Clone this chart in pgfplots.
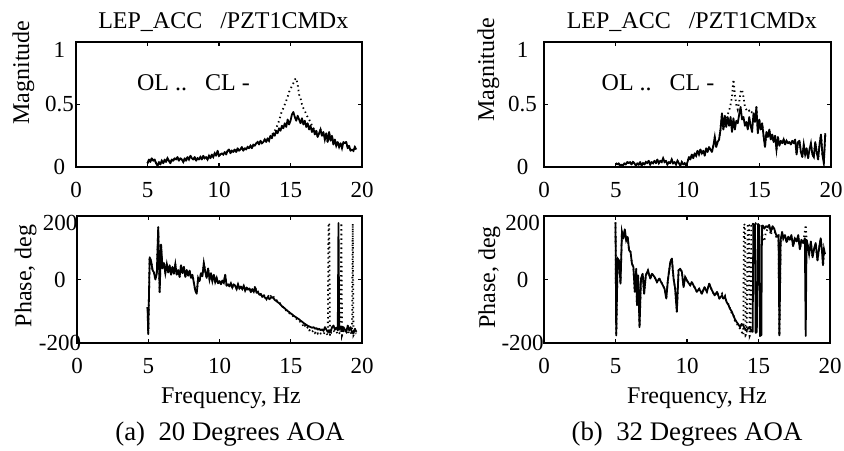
\documentclass[border=0pt]{standalone}
\usepackage{fontspec}
\setmainfont{Liberation Serif}
\usepackage{pgfplots}
\usepackage{pgfplotstable}
\pgfplotsset{compat=1.18}

% magnitude, 20 deg AOA: f, closed loop, open loop
\pgfplotstableread{
f cl ol
5.0 0.03 0.03
5.1 0.06 0.06
5.2 0.04 0.04
5.3 0.07 0.07
5.4 0.05 0.05
5.5 0.06 0.06
5.6 0.03 0.03
5.7 0.01 0.01
5.8 0.04 0.04
5.9 0.02 0.02
6.0 0.05 0.05
6.1 0.03 0.03
6.2 0.06 0.06
6.3 0.04 0.04
6.4 0.07 0.07
6.5 0.05 0.05
6.6 0.03 0.03
6.7 0.06 0.06
6.8 0.05 0.05
6.9 0.07 0.07
7.0 0.06 0.06
7.1 0.08 0.08
7.2 0.05 0.05
7.3 0.07 0.07
7.4 0.06 0.06
7.5 0.04 0.04
7.6 0.07 0.07
7.7 0.05 0.05
7.8 0.08 0.08
7.9 0.06 0.06
8.0 0.09 0.09
8.1 0.07 0.07
8.2 0.06 0.06
8.3 0.08 0.08
8.4 0.05 0.05
8.5 0.07 0.07
8.6 0.06 0.06
8.7 0.08 0.08
8.8 0.06 0.06
8.9 0.09 0.09
9.0 0.07 0.07
9.1 0.08 0.08
9.2 0.06 0.06
9.3 0.09 0.09
9.4 0.07 0.07
9.5 0.10 0.10
9.6 0.08 0.08
9.7 0.11 0.11
9.8 0.09 0.09
9.9 0.13 0.13
10.0 0.09 0.09
10.1 0.10 0.10
10.2 0.11 0.11
10.3 0.10 0.10
10.4 0.12 0.12
10.5 0.10 0.10
10.6 0.13 0.13
10.7 0.14 0.14
10.8 0.11 0.11
10.9 0.13 0.13
11.0 0.12 0.12
11.1 0.14 0.14
11.2 0.12 0.12
11.3 0.15 0.15
11.4 0.13 0.13
11.5 0.14 0.14
11.6 0.16 0.16
11.7 0.13 0.13
11.8 0.15 0.15
11.9 0.14 0.14
12.0 0.16 0.16
12.1 0.15 0.15
12.2 0.17 0.17
12.3 0.15 0.15
12.4 0.18 0.18
12.5 0.17 0.17
12.6 0.19 0.19
12.7 0.20 0.20
12.8 0.18 0.18
12.9 0.21 0.21
13.0 0.19 0.19
13.1 0.20 0.20
13.2 0.22 0.22
13.3 0.20 0.20
13.4 0.23 0.23
13.5 0.21 0.21
13.6 0.25 0.25
13.7 0.23 0.25
13.8 0.27 0.28
13.9 0.25 0.29
14.0 0.29 0.31
14.1 0.27 0.34
14.2 0.31 0.37
14.3 0.29 0.41
14.4 0.33 0.45
14.5 0.31 0.47
14.6 0.35 0.50
14.7 0.32 0.53
14.8 0.38 0.56
14.9 0.34 0.60
15.0 0.37 0.62
15.1 0.42 0.65
15.2 0.44 0.67
15.3 0.40 0.70
15.4 0.37 0.71
15.5 0.41 0.66
15.6 0.38 0.58
15.7 0.35 0.55
15.8 0.39 0.50
15.9 0.34 0.47
16.0 0.37 0.45
16.1 0.32 0.42
16.2 0.35 0.40
16.3 0.30 0.38
16.4 0.33 0.36
16.5 0.28 0.33
16.6 0.31 0.31
16.7 0.26 0.29
16.8 0.29 0.29
16.9 0.24 0.24
17.0 0.27 0.27
17.1 0.30 0.30
17.2 0.25 0.25
17.3 0.28 0.28
17.4 0.22 0.22
17.5 0.27 0.27
17.6 0.20 0.20
17.7 0.28 0.28
17.8 0.21 0.21
17.9 0.25 0.25
18.0 0.18 0.18
18.1 0.22 0.22
18.2 0.17 0.17
18.3 0.20 0.20
18.4 0.16 0.16
18.5 0.19 0.19
18.6 0.15 0.15
18.7 0.20 0.20
18.8 0.19 0.19
18.9 0.20 0.20
19.0 0.15 0.15
19.1 0.17 0.17
19.2 0.13 0.13
19.3 0.14 0.14
19.4 0.13 0.13
19.5 0.16 0.16
19.6 0.14 0.14
}\magA

% phase, 20 deg AOA
\pgfplotstableread{
f cl ol
4.95 -87 -87
5.00 -172 -172
5.10 70 70
5.20 58 58
5.30 30 30
5.40 22 22
5.50 0 0
5.60 18 18
5.70 165 165
5.80 -40 -40
5.90 110 110
6.00 35 35
6.10 52 52
6.20 20 20
6.30 48 48
6.40 22 22
6.50 45 45
6.60 15 15
6.70 40 40
6.80 18 18
6.90 48 48
7.00 15 15
7.10 30 30
7.20 8 8
7.30 45 45
7.40 20 20
7.50 40 40
7.60 8 8
7.70 30 30
7.80 12 12
7.90 28 28
8.00 5 5
8.10 15 15
8.20 -10 -10
8.30 -35 -35
8.40 -45 -45
8.50 5 5
8.60 -5 -5
8.70 20 20
8.80 10 10
8.90 52 52
9.00 25 25
9.10 5 5
9.20 35 35
9.30 0 0
9.40 20 20
9.50 -5 -5
9.60 15 15
9.70 -8 -8
9.80 5 5
9.90 -12 -12
10.00 -5 -5
10.10 -15 -15
10.20 -3 -3
10.30 -10 -10
10.40 15 15
10.50 -20 -20
10.60 -15 -15
10.70 -22 -22
10.80 -12 -12
10.90 -25 -25
11.00 -15 -15
11.10 -20 -20
11.20 -30 -30
11.30 -15 -15
11.40 -28 -28
11.50 -22 -22
11.60 -30 -30
11.70 -20 -20
11.80 -35 -35
11.90 -25 -25
12.00 -32 -32
12.10 -28 -28
12.20 -40 -40
12.30 -30 -30
12.40 -38 -38
12.50 -25 -20
12.60 -42 -40
12.70 -40 -38
12.80 -48 -45
12.90 -45 -48
13.00 -55 -52
13.10 -50 -48
13.20 -58 -55
13.30 -60 -62
13.40 -55 -50
13.50 -62 -58
13.60 -58 -52
13.70 -55 -48
13.80 -60 -55
13.90 -65 -62
14.00 -68 -65
14.10 -72 -70
14.20 -75 -72
14.30 -80 -78
14.40 -85 -82
14.50 -88 -90
14.60 -92 -95
14.70 -96 -98
14.80 -100 -102
14.90 -103 -106
15.00 -107 -110
15.10 -110 -112
15.20 -114 -118
15.30 -117 -120
15.40 -120 -124
15.50 -123 -128
15.60 -126 -130
15.70 -130 -135
15.80 -133 -138
15.90 -137 -150
16.00 -140 -145
16.10 -143 -155
16.20 -146 -150
16.30 -148 -160
16.40 -150 -158
16.50 -152 -165
16.60 -150 -160
16.70 -155 -168
16.80 -153 -162
16.90 -158 -170
17.00 -155 -165
17.10 -160 -170
17.20 -157 -168
17.30 -162 -172
17.40 -150 -165
17.50 -158 -170
17.60 -165 -175
17.65 -160 178
17.70 -168 176
17.75 -160 -178
17.80 -165 -170
17.90 -150 -162
18.00 -145 -160
18.10 -158 -168
18.20 -152 -165
18.30 -160 -170
18.35 178 -165
18.40 -158 -168
18.50 -155 -172
18.55 -150 178
18.60 -160 -176
18.70 -150 -162
18.80 -158 -170
18.90 -165 -168
19.00 -145 -160
19.10 -160 -170
19.20 -150 -165
19.30 -168 -175
19.35 -165 176
19.40 -170 -176
19.50 -155 -168
19.60 -165 -170
}\phA

% magnitude, 32 deg AOA
\pgfplotstableread{
f cl ol
5.0 0.03 0.03
5.1 0.02 0.02
5.2 0.03 0.03
5.3 0.01 0.01
5.4 0.02 0.02
5.5 0.01 0.01
5.6 0.03 0.03
5.7 0.02 0.02
5.8 0.04 0.04
5.9 0.03 0.03
6.0 0.04 0.04
6.1 0.02 0.02
6.2 0.04 0.04
6.3 0.03 0.03
6.4 0.01 0.01
6.5 0.03 0.03
6.6 0.02 0.02
6.7 0.04 0.04
6.8 0.01 0.01
6.9 0.03 0.03
7.0 0.02 0.02
7.1 0.04 0.04
7.2 0.03 0.03
7.3 0.05 0.05
7.4 0.02 0.02
7.5 0.04 0.04
7.6 0.03 0.03
7.7 0.05 0.05
7.8 0.03 0.03
7.9 0.06 0.06
8.0 0.03 0.03
8.1 0.05 0.05
8.2 0.04 0.04
8.3 0.07 0.07
8.4 0.04 0.04
8.5 0.05 0.05
8.6 0.02 0.02
8.7 0.04 0.04
8.8 0.03 0.03
8.9 0.06 0.06
9.0 0.03 0.03
9.1 0.04 0.04
9.2 0.02 0.02
9.3 0.05 0.05
9.4 0.03 0.03
9.5 0.01 0.01
9.6 0.04 0.04
9.7 0.02 0.02
9.8 0.03 0.03
9.9 0.01 0.01
10.0 0.04 0.04
10.1 0.08 0.08
10.2 0.06 0.06
10.3 0.10 0.10
10.4 0.07 0.07
10.5 0.11 0.11
10.6 0.09 0.09
10.7 0.13 0.13
10.8 0.10 0.10
10.9 0.14 0.14
11.0 0.11 0.11
11.1 0.13 0.13
11.2 0.09 0.09
11.3 0.15 0.15
11.4 0.12 0.12
11.5 0.16 0.16
11.6 0.14 0.14
11.7 0.12 0.12
11.8 0.17 0.17
11.9 0.24 0.24
12.0 0.16 0.16
12.1 0.20 0.20
12.2 0.22 0.22
12.3 0.30 0.30
12.4 0.43 0.43
12.5 0.30 0.30
12.6 0.41 0.33
12.7 0.32 0.40
12.8 0.40 0.42
12.9 0.33 0.45
13.0 0.40 0.50
13.1 0.28 0.56
13.2 0.39 0.70
13.3 0.30 0.58
13.4 0.37 0.50
13.5 0.35 0.46
13.6 0.42 0.52
13.7 0.48 0.60
13.8 0.38 0.62
13.9 0.40 0.56
14.0 0.33 0.48
14.1 0.36 0.46
14.2 0.30 0.44
14.3 0.40 0.45
14.4 0.33 0.43
14.5 0.28 0.44
14.6 0.43 0.44
14.7 0.36 0.36
14.8 0.48 0.48
14.9 0.27 0.27
15.0 0.38 0.38
15.1 0.30 0.30
15.2 0.35 0.35
15.3 0.25 0.25
15.4 0.16 0.16
15.5 0.28 0.28
15.6 0.24 0.24
15.7 0.30 0.30
15.8 0.22 0.22
15.9 0.26 0.26
16.0 0.20 0.20
16.1 0.25 0.25
16.2 0.14 0.14
16.3 0.24 0.24
16.4 0.17 0.17
16.5 0.21 0.21
16.6 0.19 0.19
16.7 0.22 0.22
16.8 0.18 0.18
16.9 0.21 0.21
17.0 0.19 0.19
17.1 0.20 0.20
17.2 0.18 0.18
17.3 0.21 0.21
17.4 0.19 0.19
17.5 0.22 0.22
17.6 0.10 0.10
17.7 0.20 0.20
17.8 0.21 0.21
17.9 0.12 0.12
18.0 0.08 0.08
18.1 0.18 0.18
18.2 0.10 0.10
18.3 0.15 0.15
18.4 0.07 0.07
18.5 0.14 0.14
18.6 0.19 0.19
18.7 0.10 0.10
18.8 0.08 0.08
18.9 0.20 0.20
19.0 0.12 0.12
19.1 0.06 0.06
19.2 0.18 0.18
19.3 0.26 0.26
19.4 0.10 0.10
19.5 0.03 0.03
19.6 0.27 0.27
}\magB

% phase, 32 deg AOA
\pgfplotstableread{
f cl ol
5.00 180 180
5.05 -176 -176
5.15 66 66
5.25 60 60
5.35 -13 -13
5.45 150 150
5.55 129 129
5.65 158 158
5.75 123 123
5.85 134 134
5.95 92 92
6.05 87 87
6.15 50 50
6.25 39 39
6.35 -39 -39
6.45 34 34
6.50 -81 -81
6.58 13 13
6.68 -150 -150
6.78 3 3
6.90 18 18
7.00 -45 -45
7.12 13 13
7.27 29 29
7.43 3 3
7.55 18 18
7.73 8 8
7.90 -8 -8
8.06 3 3
8.25 -13 -13
8.43 -29 -29
8.55 -60 -60
8.66 -3 -3
8.83 55 55
8.94 66 66
9.06 3 3
9.17 -29 -29
9.29 -102 -102
9.41 29 29
9.52 34 34
9.64 24 24
9.76 -24 -24
9.87 8 8
10.06 -8 -8
10.22 -18 -18
10.33 -8 -8
10.52 -24 -24
10.69 -39 -39
10.85 -29 -29
11.04 -45 -45
11.22 -24 -24
11.39 -39 -39
11.55 -13 -13
11.74 -34 -34
11.93 -50 -50
12.10 -39 -39
12.26 -60 -58
12.45 -50 -45
12.54 -60 -62
12.66 -55 -52
12.77 -71 -75
12.90 -80 -78
13.00 -92 -90
13.12 -100 -105
13.24 -113 -110
13.35 -125 -130
13.47 -134 -138
13.60 -142 -148
13.71 -150 -155
13.82 -140 -165
13.94 -145 -175
13.98 -150 175
14.06 -155 170
14.10 -158 -176
14.17 -160 -172
14.25 -155 176
14.33 -152 172
14.38 -150 -178
14.45 -158 -170
14.50 -160 178
14.59 -165 175
14.64 175 176
14.75 172 172
14.80 -168 176
14.88 -165 170
14.97 175 168
15.05 170 172
15.10 -178 176
15.20 -175 170
15.24 165 165
15.30 170 130
15.40 160 120
15.52 168 150
15.63 165 158
15.75 172 165
15.86 150 140
15.98 168 160
16.10 160 155
16.20 145 140
16.28 135 128
16.40 140 135
16.46 -176 -176
16.55 125 125
16.65 150 145
16.73 130 128
16.85 140 140
16.96 118 115
17.08 135 130
17.19 125 122
17.30 140 135
17.42 105 105
17.54 130 128
17.66 120 118
17.78 140 138
17.89 95 95
18.00 125 120
18.12 115 115
18.24 130 150
18.30 -178 172
18.36 125 125
18.46 105 105
18.54 80 80
18.66 120 115
18.78 70 70
18.90 100 100
19.00 115 110
19.12 60 60
19.24 100 100
19.35 130 130
19.44 90 90
19.51 45 45
19.58 95 95
19.65 80 80
}\phB

\pgfplotsset{
  panel/.style={
    scale only axis,
    xmin=0, xmax=20,
    xtick={0,5,10,15,20},
    xticklabels={0,5,10,15,20},
    axis line style={line width=0.9pt},
    tick style={line width=0.6pt, black},
    major tick length=2pt,
    tick align=inside,
    xtick pos=both, ytick pos=both,
    every tick label/.append style={font=\fontsize{11.5}{13}\selectfont},
    xticklabel style={yshift=-4pt},
    label style={font=\fontsize{12}{14}\selectfont},
    % the default title shift of 6pt adds to this one
    title style={font=\fontsize{12}{14}\selectfont, at={(axis description cs:0.515,1)}, anchor=base, yshift=0.9pt},
    extra tick style={tick style={line width=0.6pt, black}},
  },
  magn/.style={
    panel, height=62.5pt,
    ymin=0, ymax=1,
    ytick={0,0.5}, yticklabels={0,0.5},
    extra y ticks={1}, extra y tick labels={1},
    extra y tick style={yticklabel style={yshift=-3.8pt}},
    title={LEP\_ACC\ \ \ /PZT1CMDx},
    ylabel={Magnitude},
  },
  phas/.style={
    panel, height=63.5pt,
    ymin=-200, ymax=200,
    ytick={-200,0}, yticklabels={-200,0},
    extra y ticks={200}, extra y tick labels={200},
    extra y tick style={yticklabel style={yshift=-3.5pt}},
    ylabel={Phase, deg},
    xlabel={Frequency, Hz},
    xlabel style={at={(axis description cs:0.54,0)}, anchor=base, yshift=-30.2pt},
  },
  cl/.style={black, line width=0.9pt, line join=round},
  ol/.style={black, line width=0.9pt, dash pattern=on 0.7pt off 1.6pt},
}

\begin{document}
\begin{tikzpicture}
\path[use as bounding box] (0,0) rectangle (422pt,225pt);

% (a) magnitude
\begin{axis}[magn, width=143pt, at={(38pt,141.5pt)}, anchor=south west,
    yticklabel style={anchor=center, xshift=-8.3pt},
    ylabel style={at={(axis description cs:-0.164,0.756)}, anchor=base}]
  \addplot[ol] table[x=f, y=ol] {\magA};
  \addplot[cl] table[x=f, y=cl] {\magA};
  \node[anchor=base west, font=\fontsize{12}{14}\selectfont] at (axis cs:3.78,0.61) {OL ..\ \ \ CL -};
\end{axis}

% (a) phase
\begin{axis}[phas, width=142.5pt, at={(38.5pt,53.5pt)}, anchor=south west,
    yticklabel style={anchor=center, xshift=-8.5pt},
    ylabel style={at={(axis description cs:-0.16,0.528)}, anchor=base}]
  \addplot[ol] table[x=f, y=ol] {\phA};
  \addplot[cl] table[x=f, y=cl] {\phA};
\end{axis}

% (b) magnitude
\begin{axis}[magn, width=143.5pt, at={(272pt,141.5pt)}, anchor=south west,
    yticklabel style={anchor=center, xshift=-10.7pt},
    ylabel style={at={(axis description cs:-0.174,0.776)}, anchor=base}]
  \addplot[ol] table[x=f, y=ol] {\magB};
  \addplot[cl] table[x=f, y=cl] {\magB};
  \node[anchor=base west, font=\fontsize{12}{14}\selectfont] at (axis cs:3.53,0.61) {OL ..\ \ \ CL -};
\end{axis}

% (b) phase
\begin{axis}[phas, width=143pt, at={(272pt,53.5pt)}, anchor=south west,
    yticklabel style={anchor=center, xshift=-10.7pt},
    ylabel style={at={(axis description cs:-0.171,0.516)}, anchor=base},
    xlabel style={at={(axis description cs:0.535,0)}}]
  \addplot[ol] table[x=f, y=ol] {\phB};
  \addplot[cl] table[x=f, y=cl] {\phB};
\end{axis}

\node[anchor=base, font=\fontsize{13.4}{15}\selectfont] at (115pt,5pt) {(a)\ \ 20 Degrees AOA};
\node[anchor=base, font=\fontsize{13.4}{15}\selectfont] at (343.5pt,5pt) {(b)\ \ 32 Degrees AOA};
\end{tikzpicture}
\end{document}
